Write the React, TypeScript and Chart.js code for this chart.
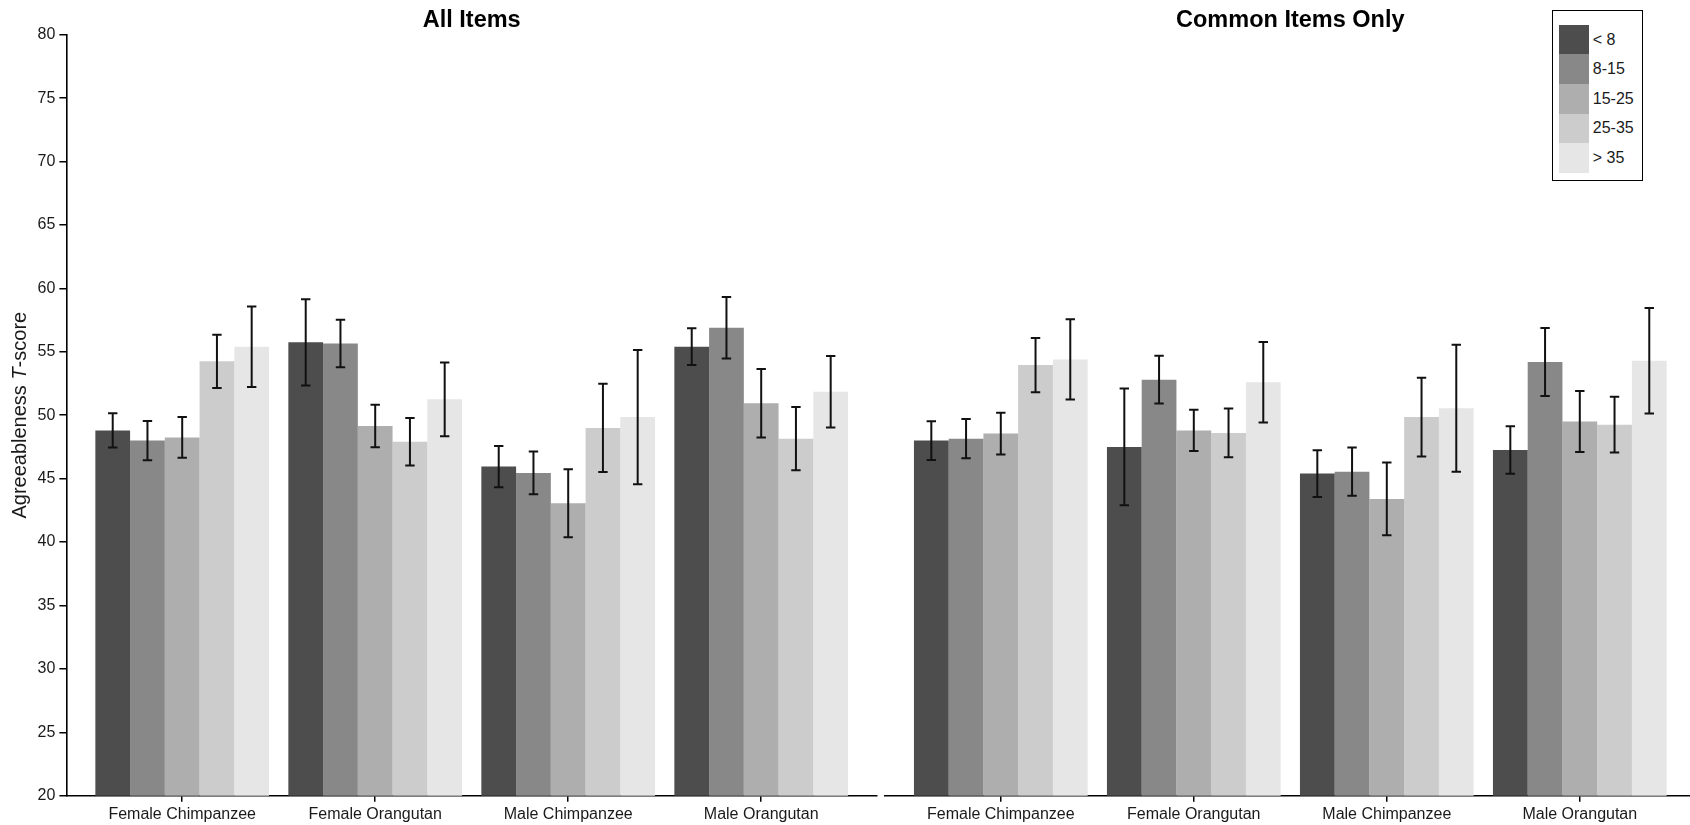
import React, { useEffect, useRef } from 'react';
import { Chart, registerables } from 'chart.js';

Chart.register(...registerables);

// Groups shown along each x axis
const categories = ['Female Chimpanzee', 'Female Orangutan', 'Male Chimpanzee', 'Male Orangutan'];

// Age bands (one series each) and their grey fills
const ageGroups = ['< 8', '8-15', '15-25', '25-35', '> 35'];
const greys = ['#4d4d4d', '#888888', '#aeaeae', '#cccccc', '#e6e6e6'];

// Y axis range and tick spacing
const yMin = 20;
const yMax = 80;
const yStep = 5;

// "All Items": mean T-score per age band, one value per category
const allUnder8 = [48.8, 55.75, 45.95, 55.4];
const all8to15 = [48.0, 55.65, 45.45, 56.9];
const all15to25 = [48.25, 49.15, 43.05, 50.95];
const all25to35 = [54.25, 47.9, 49.0, 48.15];
const allOver35 = [55.4, 51.25, 49.85, 51.85];

// "All Items": error bar half-widths
const allUnder8Err = [1.35, 3.4, 1.63, 1.45];
const all8to15Err = [1.55, 1.87, 1.68, 2.42];
const all15to25Err = [1.6, 1.68, 2.68, 2.7];
const all25to35Err = [2.1, 1.87, 3.47, 2.5];
const allOver35Err = [3.18, 2.9, 5.3, 2.82];

// "Common Items Only": mean T-score per age band
const commonUnder8 = [48.0, 47.5, 45.4, 47.25];
const common8to15 = [48.15, 52.8, 45.55, 54.2];
const common15to25 = [48.55, 48.8, 43.4, 49.5];
const common25to35 = [53.95, 48.6, 49.85, 49.25];
const commonOver35 = [54.4, 52.6, 50.55, 54.3];

// "Common Items Only": error bar half-widths
const commonUnder8Err = [1.53, 4.6, 1.84, 1.87];
const common8to15Err = [1.55, 1.88, 1.9, 2.68];
const common15to25Err = [1.65, 1.62, 2.87, 2.4];
const common25to35Err = [2.14, 1.92, 3.1, 2.2];
const commonOver35Err = [3.17, 3.17, 5.0, 4.16];

const FONT = '"Liberation Sans", Arial, Helvetica, sans-serif';
const TEXT = '#1a1a1a';

type PanelProps = {
  title: string;
  means: number[][];
  errors: number[][];
  showYAxis: boolean;
  left: number;
  width: number;
  xMax: number;
  padLeft: number;
  padRight: number;
};

function Panel({ title, means, errors, showYAxis, left, width, xMax, padLeft, padRight }: PanelProps) {
  const canvasRef = useRef<HTMLCanvasElement | null>(null);

  useEffect(() => {
    const canvas = canvasRef.current;
    if (!canvas) return;

    const errorBars = {
      id: 'errorBars',
      afterDatasetsDraw(chart: any) {
        const { ctx } = chart;
        const y = chart.scales.y;
        ctx.save();
        ctx.strokeStyle = '#111111';
        ctx.lineWidth = 2;
        chart.data.datasets.forEach((_: any, i: number) => {
          const meta = chart.getDatasetMeta(i);
          meta.data.forEach((bar: any, j: number) => {
            const v = means[i][j];
            const e = errors[i][j];
            const top = y.getPixelForValue(v + e);
            const bot = y.getPixelForValue(v - e);
            const cap = 4.7;
            ctx.beginPath();
            ctx.moveTo(bar.x, top);
            ctx.lineTo(bar.x, bot);
            ctx.moveTo(bar.x - cap, top);
            ctx.lineTo(bar.x + cap, top);
            ctx.moveTo(bar.x - cap, bot);
            ctx.lineTo(bar.x + cap, bot);
            ctx.stroke();
          });
        });
        ctx.restore();
      },
    };

    const panelText = {
      id: 'panelText',
      afterDraw(chart: any) {
        const { ctx, chartArea } = chart;
        const x = chart.scales.x;
        ctx.save();
        ctx.fillStyle = '#000';
        ctx.font = `bold 23.5px ${FONT}`;
        ctx.textAlign = 'center';
        ctx.textBaseline = 'middle';
        const cx = (x.getPixelForValue(0.4) + x.getPixelForValue(4.6)) / 2;
        ctx.fillText(title, cx, 20.6);

        if (showYAxis) {
          const parts = [
            { t: 'Agreeableness ', f: `20px ${FONT}` },
            { t: 'T', f: `italic 20px ${FONT}` },
            { t: '-score', f: `20px ${FONT}` },
          ];
          let total = 0;
          const widths = parts.map((p) => {
            ctx.font = p.f;
            const w = ctx.measureText(p.t).width;
            total += w;
            return w;
          });
          ctx.translate(20.5, (chartArea.top + chartArea.bottom) / 2);
          ctx.rotate(-Math.PI / 2);
          ctx.textAlign = 'left';
          ctx.fillStyle = TEXT;
          let pos = -total / 2;
          parts.forEach((p, k) => {
            ctx.font = p.f;
            ctx.fillText(p.t, pos, 0);
            pos += widths[k];
          });
        }
        ctx.restore();
      },
    };

    const chart = new Chart(canvas, {
      type: 'bar',
      data: {
        datasets: ageGroups.map((g, i) => ({
          label: g,
          data: categories.map((_, j) => ({ x: j + 1, y: means[i][j] })),
          backgroundColor: greys[i],
          borderWidth: 0,
          categoryPercentage: 0.9,
          barPercentage: 1.0,
        })),
      },
      options: {
        animation: false,
        responsive: false,
        maintainAspectRatio: false,
        layout: { padding: { top: 34.7, left: padLeft, right: padRight, bottom: 0 } },
        plugins: {
          legend: { display: false },
          tooltip: { enabled: false },
          title: { display: false },
        },
        scales: {
          x: {
            type: 'linear',
            offset: false,
            bounds: 'data',
            min: 0.4,
            max: xMax,
            afterBuildTicks: (s: any) => {
              s.ticks = categories.map((_, j) => ({ value: j + 1 }));
            },
            afterFit: (s: any) => {
              s.height = 29.3;
            },
            grid: {
              display: true,
              offset: false,
              drawOnChartArea: false,
              drawTicks: true,
              tickLength: 6,
              color: '#000',
              lineWidth: 1.5,
            },
            border: { display: true, color: '#000', width: 1.6 },
            ticks: {
              autoSkip: false,
              maxRotation: 0,
              minRotation: 0,
              padding: 3.5,
              color: TEXT,
              font: { family: FONT, size: 16 },
              callback: (v: any) => categories[Math.round(Number(v)) - 1] ?? '',
            },
          },
          y: {
            type: 'linear',
            display: showYAxis,
            min: yMin,
            max: yMax,
            afterFit: (s: any) => {
              s.width = showYAxis ? 66.4 : 0;
            },
            grid: {
              display: true,
              drawOnChartArea: false,
              drawTicks: true,
              tickLength: 7,
              color: '#000',
              lineWidth: 1.5,
            },
            border: { display: true, color: '#000', width: 1.6 },
            ticks: {
              stepSize: yStep,
              padding: 4,
              color: TEXT,
              font: { family: FONT, size: 16 },
            },
          },
        },
      } as any,
      plugins: [errorBars, panelText],
    });

    return () => chart.destroy();
  }, [title, means, errors, showYAxis, xMax, padLeft, padRight]);

  return (
    <canvas
      ref={canvasRef}
      width={width}
      height={825}
      style={{ position: 'absolute', left, top: 0, width, height: 825 }}
    />
  );
}

const allMeans = [allUnder8, all8to15, all15to25, all25to35, allOver35];
const allErrors = [allUnder8Err, all8to15Err, all15to25Err, all25to35Err, allOver35Err];
const commonMeans = [commonUnder8, common8to15, common15to25, common25to35, commonOver35];
const commonErrors = [commonUnder8Err, common8to15Err, common15to25Err, common25to35Err, commonOver35Err];

function Legend() {
  return (
    <div
      style={{
        position: 'absolute',
        left: 1552.3,
        top: 10,
        width: 90.4,
        height: 171,
        border: '1.6px solid #000',
        boxSizing: 'border-box',
        background: '#fff',
      }}
    >
      {ageGroups.map((g, i) => (
        <div
          key={g}
          style={{
            position: 'absolute',
            left: 6.2,
            top: 13.8 + i * 29.6,
            height: 29.6,
            display: 'flex',
            alignItems: 'center',
          }}
        >
          <div style={{ width: 29.3, height: 29.6, background: greys[i] }} />
          <span
            style={{
              marginLeft: 4,
              font: `16px ${FONT}`,
              color: TEXT,
              whiteSpace: 'pre',
            }}
          >
            {g}
          </span>
        </div>
      ))}
    </div>
  );
}

export default function App() {
  return (
    <div
      style={{
        position: 'fixed',
        left: 0,
        top: 0,
        width: 1690,
        height: 825,
        background: '#fff',
        overflow: 'hidden',
      }}
    >
      <Panel
        title="All Items"
        means={allMeans}
        errors={allErrors}
        showYAxis={true}
        left={0}
        width={881}
        xMax={4.6}
        padLeft={0}
        padRight={4}
      />
      <Panel
        title="Common Items Only"
        means={commonMeans}
        errors={commonErrors}
        showYAxis={false}
        left={881}
        width={809}
        xMax={4.571}
        padLeft={4}
        padRight={0}
      />
      <Legend />
    </div>
  );
}
